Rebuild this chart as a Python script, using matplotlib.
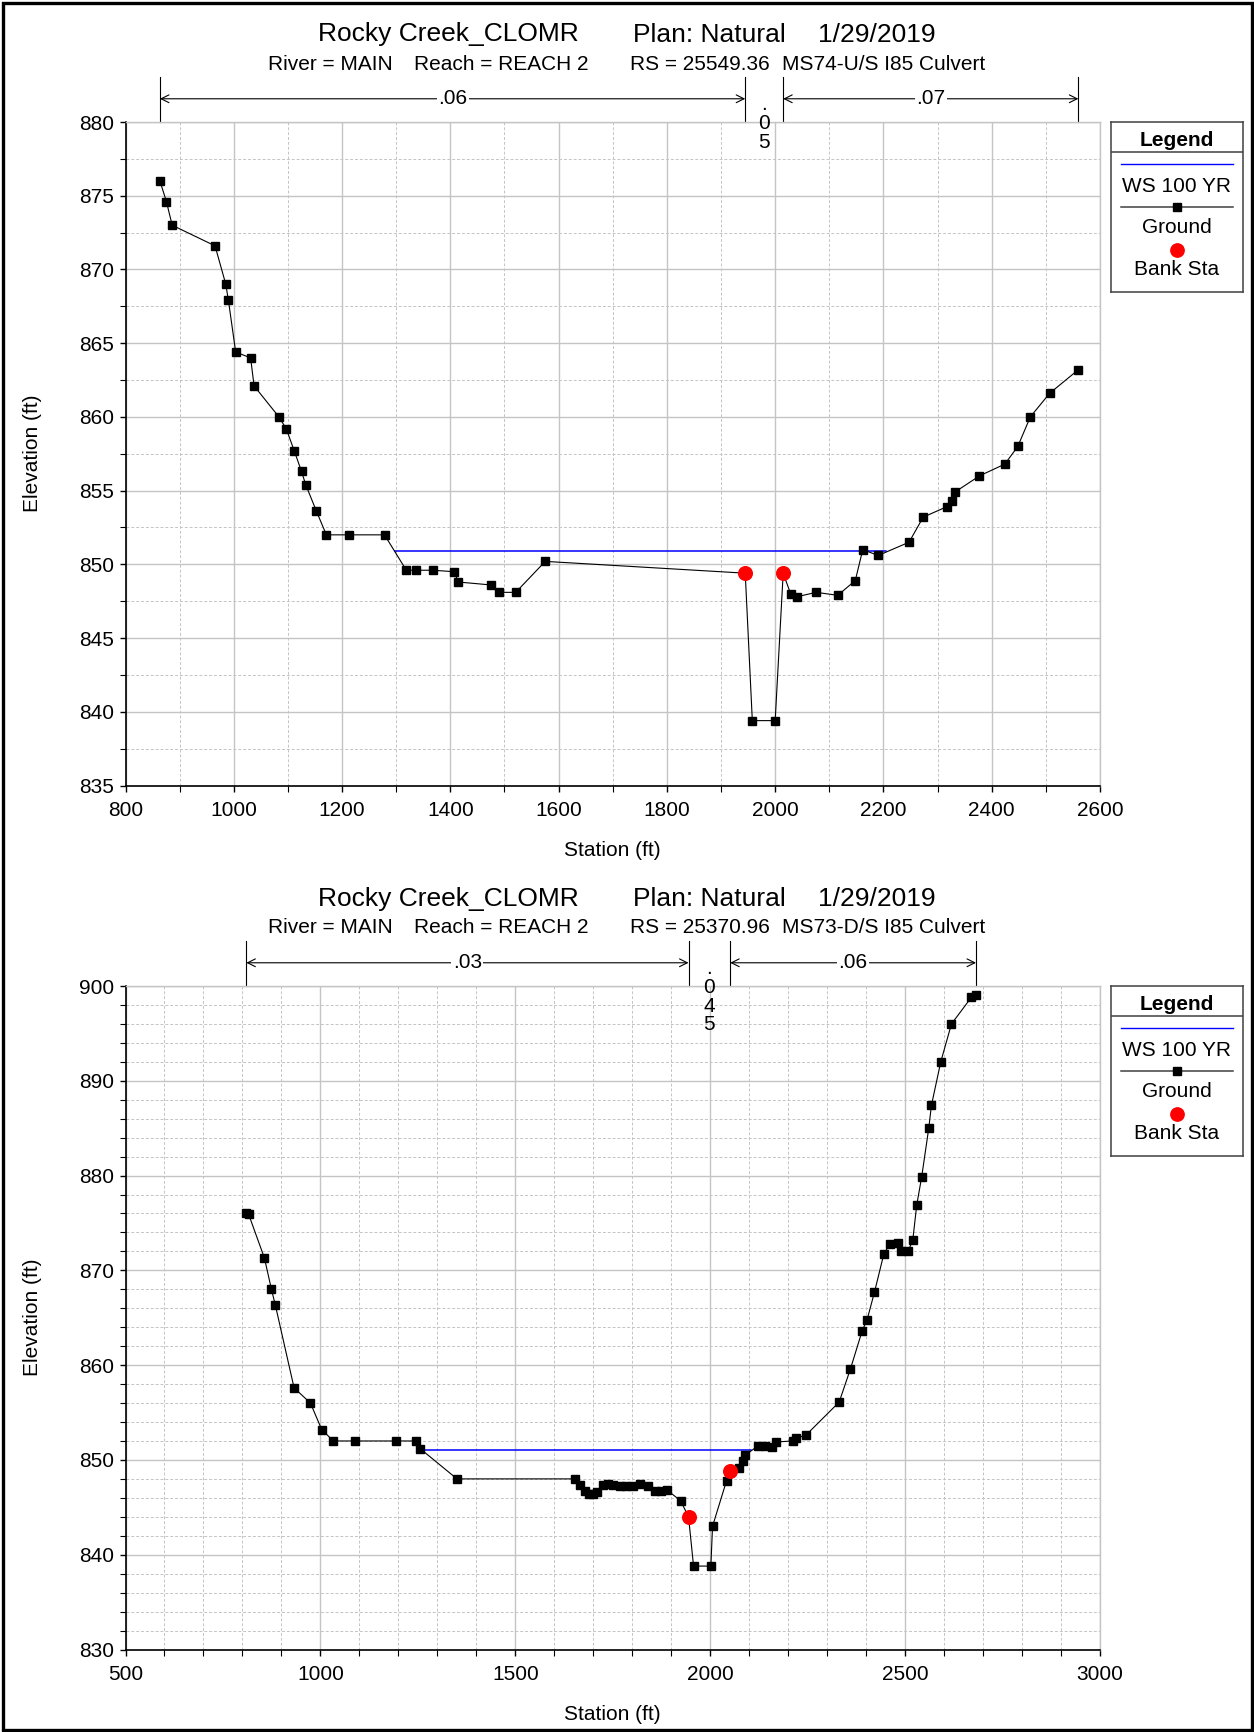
import numpy as np
import matplotlib
matplotlib.use("Agg")
import matplotlib.pyplot as plt
import matplotlib.transforms as mtransforms
from matplotlib.ticker import MultipleLocator
from matplotlib.patches import Rectangle

plt.rcParams['font.family'] = ['Liberation Sans', 'DejaVu Sans']

# ---------------- data: upper cross section ----------------
title_parts = ["Rocky Creek_CLOMR", "Plan: Natural", "1/29/2019"]
sub_parts_1 = ["River = MAIN", "Reach = REACH 2", "RS = 25549.36", "MS74-U/S I85 Culvert"]
sta_1 = [863.6, 875.6, 886.2, 965.4, 985.2, 990.1, 1003.5, 1031.1, 1037.5, 1083.4,
         1096.8, 1111.7, 1125.1, 1132.9, 1152.7, 1171.0, 1213.4, 1278.4, 1318.7, 1336.4,
         1367.5, 1407.1, 1414.8, 1475.6, 1489.0, 1520.8, 1575.3, 1944.7, 1957.8, 2000.0,
         2014.8, 2028.6, 2040.2, 2075.6, 2115.6, 2148.0, 2161.8, 2190.3, 2247.3, 2273.4,
         2316.6, 2326.6, 2332.0, 2377.4, 2424.3, 2448.2, 2471.3, 2507.0, 2560.0]
elev_1 = [876.0, 874.6, 873.0, 871.6, 869.0, 867.9, 864.4, 864.0, 862.1, 860.0,
          859.2, 857.7, 856.3, 855.4, 853.6, 852.0, 852.0, 852.0, 849.6, 849.6,
          849.6, 849.5, 848.8, 848.6, 848.1, 848.1, 850.2, 849.4, 839.4, 839.4,
          849.4, 848.0, 847.8, 848.1, 847.9, 848.9, 851.0, 850.6, 851.5, 853.2,
          853.9, 854.3, 854.9, 856.0, 856.8, 858.0, 860.0, 861.6, 863.2]
bank_sta_1 = [1944.7, 2014.8]
ws_sta_1 = [1298.0, 2205.0]
ws_elev_1 = 850.9
n_vals_1 = [".06", ".05", ".07"]
xlim_1 = (800, 2600)
ylim_1 = (835, 880)

# ---------------- data: lower cross section ----------------
sub_parts_2 = ["River = MAIN", "Reach = REACH 2", "RS = 25370.96", "MS73-D/S I85 Culvert"]
sta_2 = [810, 816, 856.4, 874.4, 884.6, 932.5, 974.4, 1003.4, 1033.3, 1089.7,
         1194.9, 1244.4, 1255.6, 1350.4, 1653, 1665.8, 1680, 1690, 1700, 1710,
         1725.6, 1738, 1751, 1768, 1785, 1801, 1821, 1841, 1858, 1875,
         1890, 1924, 1944.4, 1957.3, 2001.7, 2006, 2041.9, 2051.3, 2074.4, 2083,
         2090, 2123, 2140, 2159, 2170, 2212.8, 2219.7, 2245.3, 2330.8, 2359.8,
         2389.7, 2402.6, 2421.4, 2445.3, 2460.7, 2482, 2490.6, 2507.7, 2519.7, 2529.9,
         2542.7, 2560.7, 2567.5, 2591.5, 2619, 2670, 2682]
elev_2 = [876.0, 875.9, 871.3, 868.0, 866.3, 857.6, 856.0, 853.2, 852.0, 852.0,
          852.0, 852.0, 851.2, 848.0, 848.0, 847.4, 846.7, 846.4, 846.4, 846.6,
          847.4, 847.5, 847.4, 847.3, 847.2, 847.3, 847.5, 847.2, 846.7, 846.7,
          846.8, 845.7, 844.0, 838.8, 838.8, 843.0, 847.8, 848.8, 849.2, 849.9,
          850.5, 851.5, 851.5, 851.4, 851.9, 852.0, 852.3, 852.6, 856.1, 859.6,
          863.6, 864.8, 867.7, 871.7, 872.8, 872.9, 872.0, 872.0, 873.2, 876.9,
          879.9, 885.0, 887.4, 892.0, 896.0, 898.8, 899.1]
bank_sta_2 = [1944.4, 2051.3]
ws_sta_2 = [1258.0, 2105.0]
ws_elev_2 = 851.0
n_vals_2 = [".03", ".045", ".06"]
xlim_2 = (500, 3000)
ylim_2 = (830, 900)

legend_labels = ["WS 100 YR", "Ground", "Bank Sta"]

# ---------------- layout ----------------
W, H = 1254, 1732
DPI = 100
fig = plt.figure(figsize=(W / DPI, H / DPI), dpi=DPI)
fig.patch.set_facecolor('white')

FS = 15
FS_TITLE = 19
GRID_C = '#c4c4c4'
OFFSET = 864  # vertical offset (px) between the two panels


def px_ax(x0, y0, x1, y1):
    return fig.add_axes([x0 / W, 1 - y1 / H, (x1 - x0) / W, (y1 - y0) / H])


def draw_titles(dy, sub_parts):
    for txt, x in zip(title_parts, [318, 633, 818]):
        fig.text(x / W, 1 - (32 + dy) / H, txt, fontsize=FS_TITLE, ha='left',
                 va='center_baseline')
    for txt, x in zip(sub_parts, [268, 414, 630, 782]):
        fig.text(x / W, 1 - (62 + dy) / H, txt, fontsize=FS, ha='left',
                 va='center_baseline')


def draw_panel(ax, sta, elev, banks, ws_sta, ws_elev, n_vals, xlim, ylim,
               xmaj, xmin, ymaj, ymin):
    ax.set_xlim(*xlim)
    ax.set_ylim(*ylim)
    ax.xaxis.set_major_locator(MultipleLocator(xmaj))
    ax.xaxis.set_minor_locator(MultipleLocator(xmin))
    ax.yaxis.set_major_locator(MultipleLocator(ymaj))
    ax.yaxis.set_minor_locator(MultipleLocator(ymin))
    ax.grid(which='major', color=GRID_C, lw=1.0, ls='-')
    ax.grid(which='minor', color=GRID_C, lw=0.7, ls=(0, (3, 2)))
    ax.set_axisbelow(True)
    for s in ['left', 'bottom']:
        ax.spines[s].set_color('black')
        ax.spines[s].set_linewidth(1.2)
    for s in ['top', 'right']:
        ax.spines[s].set_color(GRID_C)
        ax.spines[s].set_linewidth(1.0)
    ax.tick_params(which='both', direction='out', top=False, right=False,
                   labelsize=FS, color='black')
    ax.tick_params(which='major', length=4.2, width=1.0)
    ax.tick_params(which='minor', length=4.0, width=0.8)
    ax.tick_params(axis='x', which='major', pad=7)
    ax.tick_params(axis='y', which='major', pad=4)

    ax.plot(ws_sta, [ws_elev, ws_elev], color='#0000ff', lw=1.1, zorder=3)
    ax.plot(sta, elev, color='black', lw=0.8, marker='s', ms=6.3, zorder=4)
    bank_elev = np.interp(banks, sta, elev)
    ax.plot(banks, bank_elev, 'o', color='#ff0000', ms=9.8, ls='none', zorder=5)

    ax.set_xlabel('Station (ft)', fontsize=FS, va='center')
    ax.set_ylabel('Elevation (ft)', fontsize=FS, va='center')
    ax.xaxis.set_label_coords(0.5, -0.0985)
    ax.yaxis.set_label_coords(-0.095, 0.5)

    # Manning's n annotations above the plot
    trans = mtransforms.blended_transform_factory(ax.transData, ax.transAxes)
    breaks = [sta[0]] + list(banks) + [sta[-1]]
    for b in breaks:
        ax.plot([b, b], [1.0, 1.068], transform=trans, color='black', lw=0.8,
                clip_on=False)
    yarr = 1.035
    for i, nv in enumerate(n_vals):
        x0, x1 = breaks[i], breaks[i + 1]
        xm = 0.5 * (x0 + x1)
        frac = (x1 - x0) / (xlim[1] - xlim[0])
        if frac > 0.06:
            ax.annotate('', xy=(x1, yarr), xytext=(x0, yarr), xycoords=trans,
                        textcoords=trans, annotation_clip=False,
                        arrowprops=dict(arrowstyle='<->', lw=0.8, shrinkA=0,
                                        shrinkB=0, mutation_scale=14,
                                        color='black'))
            ax.text(xm, yarr, nv, transform=trans, ha='center', va='center',
                    fontsize=FS, zorder=6,
                    bbox=dict(facecolor='white', edgecolor='none', pad=1.0))
        else:
            for j, ch in enumerate(nv):
                ax.annotate(ch, xy=(xm, 1.0), xycoords=trans,
                            xytext=(0, 8.6 - 13.5 * j), textcoords='offset points',
                            ha='center', va='baseline', fontsize=FS,
                            annotation_clip=False, zorder=6)


def draw_legend(dy):
    x0, x1 = 1111, 1243
    y0, y1 = 122 + dy, 292 + dy
    lax = px_ax(x0, y0, x1, y1)
    lax.set_xlim(0, x1 - x0)
    lax.set_ylim(y1 - y0, 0)
    lax.set_xticks([])
    lax.set_yticks([])
    for s in lax.spines.values():
        s.set_color('#404040')
        s.set_linewidth(1.1)
    cx = (x1 - x0) / 2
    lax.axhline(30, color='#404040', lw=1.1)
    lax.text(cx, 16, 'Legend', fontsize=FS, weight='bold', ha='center',
             va='center_baseline')
    lax.plot([10, 122], [42.3, 42.3], color='#0000ff', lw=1.0)
    lax.text(cx, 62.5, legend_labels[0], fontsize=FS, ha='center', va='center_baseline')
    lax.plot([10, 122], [85.3, 85.3], color='#404040', lw=1.1)
    lax.plot([cx], [85.3], 's', color='black', ms=5.5)
    lax.text(cx, 103.5, legend_labels[1], fontsize=FS, ha='center', va='center_baseline')
    lax.plot([cx], [127.6], 'o', color='#ff0000', ms=9.6)
    lax.text(cx, 145.8, legend_labels[2], fontsize=FS, ha='center', va='center_baseline')


# upper panel
draw_titles(0, sub_parts_1)
ax1 = px_ax(125.5, 122, 1100, 785.5)
draw_panel(ax1, sta_1, elev_1, bank_sta_1, ws_sta_1, ws_elev_1, n_vals_1,
           xlim_1, ylim_1, 200, 100, 5, 2.5)
draw_legend(0)

# lower panel
draw_titles(OFFSET, sub_parts_2)
ax2 = px_ax(125.5, 122 + OFFSET, 1100, 785.5 + OFFSET)
draw_panel(ax2, sta_2, elev_2, bank_sta_2, ws_sta_2, ws_elev_2, n_vals_2,
           xlim_2, ylim_2, 500, 100, 10, 2)
draw_legend(OFFSET)

# figure frame
fig.patches.append(Rectangle((2.5 / W, 2.5 / H), 1 - 5 / W, 1 - 5 / H,
                             transform=fig.transFigure, fill=False,
                             edgecolor='black', lw=2.4))

fig.savefig('out.png', dpi=DPI, facecolor='white')
